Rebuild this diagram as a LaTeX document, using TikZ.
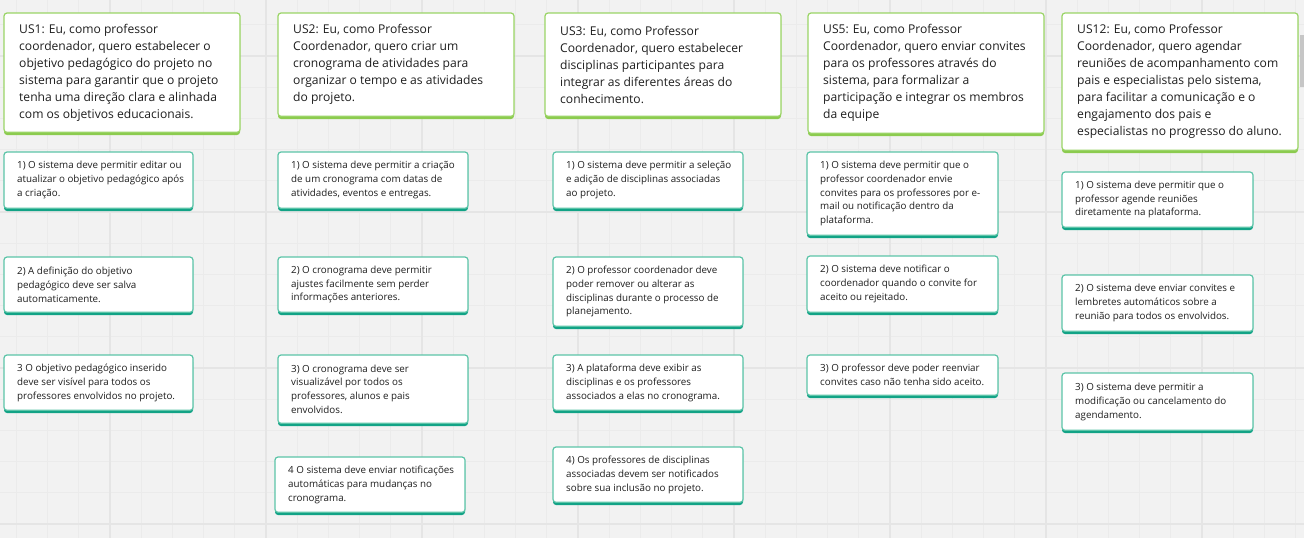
\documentclass[tikz,border=0pt]{standalone}
\usepackage{fontspec}
\setmainfont{Open Sans}
\definecolor{bgc}{HTML}{F2F2F2}
\definecolor{minorc}{HTML}{EBEBEB}
\definecolor{majorc}{HTML}{E5E5E5}
\definecolor{hdborder}{HTML}{9AD466}
\definecolor{hdbottom}{HTML}{8CCB4F}
\definecolor{rqborder}{HTML}{5CC4A8}
\definecolor{rqbottom}{HTML}{12A386}
\definecolor{txt}{HTML}{1E1E1E}
\definecolor{scrollc}{HTML}{C6C6C6}
\pgfdeclarelayer{bg}
\pgfdeclarelayer{band}
\pgfsetlayers{bg,band,main}
\tikzset{
  minorl/.style={draw=minorc, line width=1pt},
  majorl/.style={draw=majorc, line width=1.4pt},
  hdcard/.style={draw=hdborder, line width=1.2pt, fill=white, rounded corners=3pt, inner sep=0pt, outer sep=0pt},
  hdband/.style={fill=hdbottom},
  hdtext/.style={font=\fontsize{12.1}{17}\selectfont, align=left, inner sep=0pt, text=txt, xshift=15pt},
  rqcard/.style={draw=rqborder, line width=1.2pt, fill=white, rounded corners=3pt, inner sep=0pt, outer sep=0pt},
  rqband/.style={fill=rqbottom},
  rqtext/.style={font=\fontsize{9.8}{13.8}\selectfont, align=left, inner sep=0pt, text=txt, xshift=13pt},
}
\newcommand\mycard[7]{%
  \begin{pgfonlayer}{band}\fill[#2band, rounded corners=3pt] (#3,#4+4) rectangle (#5,#6);\end{pgfonlayer}%
  \node[#2card, anchor=north west, minimum width={#5-#3}, minimum height={#6-#4-2.7}] (#1) at (#3,#4) {};%
  \node[#2text, anchor=west] (#1t) at (#1.west) {#7};%
}
\begin{document}
\begin{tikzpicture}[x=1pt,y=-1pt]
\useasboundingbox (0,0) rectangle (1304,538);
\begin{pgfonlayer}{bg}
  \clip (0,0) rectangle (1304,538);
  \fill[bgc] (0,0) rectangle (1304,538);
  \foreach \i in {-3,...,38}{\draw[minorl] ({110+31.2*\i},0) -- ({110+31.2*\i},538);}
  \foreach \j in {-1,...,15}{\draw[minorl] (0,{56+31.2*\j}) -- (1304,{56+31.2*\j});}
  \foreach \i in {-1,...,8}{\draw[majorl] ({110+156*\i},0) -- ({110+156*\i},538);}
  \foreach \j in {0,...,3}{\draw[majorl] (0,{56+156*\j}) -- (1304,{56+156*\j});}
\end{pgfonlayer}
\fill[scrollc] (1300,35) rectangle (1304,87);

% user stories
\mycard{us1}{hd}{4}{13}{240}{135}{US1: Eu, como professor\\coordenador, quero estabelecer o\\objetivo pedagógico do projeto no\\sistema para garantir que o projeto\\tenha uma direção clara e alinhada\\com os objetivos educacionais.}
\mycard{us2}{hd}{278}{13}{514}{119}{US2: Eu, como Professor\\Coordenador, quero criar um\\cronograma de atividades para\\organizar o tempo e as atividades\\do projeto.}
\mycard{us3}{hd}{545}{13}{781}{119}{US3: Eu, como Professor\\Coordenador, quero estabelecer\\disciplinas participantes para\\integrar as diferentes áreas do\\conhecimento.}
\mycard{us5}{hd}{808}{13}{1044}{136}{US5: Eu, como Professor\\Coordenador, quero enviar convites\\para os professores através do\\sistema, para formalizar a\\participação e integrar os membros\\da equipe}
\mycard{us12}{hd}{1062}{13}{1298}{153}{US12: Eu, como Professor\\Coordenador, quero agendar\\reuniões de acompanhamento com\\pais e especialistas pelo sistema,\\para facilitar a comunicação e o\\engajamento dos pais e\\especialistas no progresso do aluno.}

% column 1
\mycard{a1}{rq}{4}{152}{193}{211}{1) O sistema deve permitir editar ou\\atualizar o objetivo pedagógico após\\a criação.}
\mycard{a2}{rq}{4}{257}{193}{315}{2) A definição do objetivo\\pedagógico deve ser salva\\automaticamente.}
\mycard{a3}{rq}{4}{355}{193}{413}{3 O objetivo pedagógico inserido\\deve ser visível para todos os\\professores envolvidos no projeto.}

% column 2
\mycard{b1}{rq}{278}{152}{468}{211}{1) O sistema deve permitir a criação\\de um cronograma com datas de\\atividades, eventos e entregas.}
\mycard{b2}{rq}{278}{257}{468}{315}{2) O cronograma deve permitir\\ajustes facilmente sem perder\\informações anteriores.}
\mycard{b3}{rq}{278}{355}{468}{426}{3) O cronograma deve ser\\visualizável por todos os\\professores, alunos e pais\\envolvidos.}
\mycard{b4}{rq}{275}{457}{465}{515}{4 O sistema deve enviar notificações\\automáticas para mudanças no\\cronograma.}

% column 3
\mycard{c1}{rq}{553}{152}{743}{211}{1) O sistema deve permitir a seleção\\e adição de disciplinas associadas\\ao projeto.}
\mycard{c2}{rq}{553}{257}{743}{329}{2) O professor coordenador deve\\poder remover ou alterar as\\disciplinas durante o processo de\\planejamento.}
\mycard{c3}{rq}{553}{355}{743}{413}{3) A plataforma deve exibir as\\disciplinas e os professores\\associados a elas no cronograma.}
\mycard{c4}{rq}{553}{447}{743}{505}{4) Os professores de disciplinas\\associadas devem ser notificados\\sobre sua inclusão no projeto.}

% column 4
\mycard{d1}{rq}{807}{152}{998}{238}{1) O sistema deve permitir que o\\professor coordenador envie\\convites para os professores por e-\\mail ou notificação dentro da\\plataforma.}
\mycard{d2}{rq}{807}{256}{998}{315}{2) O sistema deve notificar o\\coordenador quando o convite for\\aceito ou rejeitado.}
\mycard{d3}{rq}{807}{355}{998}{398}{3) O professor deve poder reenviar\\convites caso não tenha sido aceito.}

% column 5
\mycard{e1}{rq}{1062}{172}{1253}{230}{1) O sistema deve permitir que o\\professor agende reuniões\\diretamente na plataforma.}
\mycard{e2}{rq}{1062}{275}{1253}{334}{2) O sistema deve enviar convites e\\lembretes automáticos sobre a\\reunião para todos os envolvidos.}
\mycard{e3}{rq}{1062}{373}{1253}{433}{3) O sistema deve permitir a\\modificação ou cancelamento do\\agendamento.}
\end{tikzpicture}
\end{document}
